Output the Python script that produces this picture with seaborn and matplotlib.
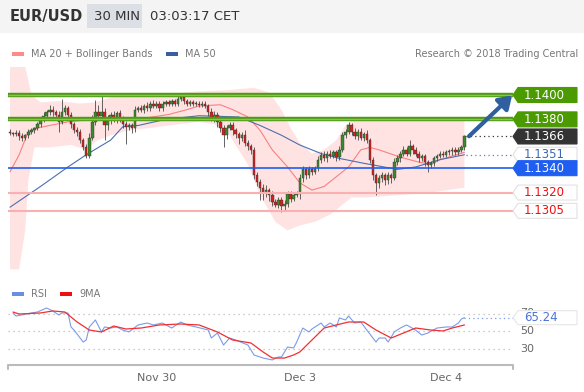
import numpy as np
import matplotlib
matplotlib.use("Agg")
import matplotlib.pyplot as plt
from matplotlib.patches import Polygon, Rectangle
import seaborn as sns

# 30-min EUR/USD closes, one per bar (bar index 0..149)
closes = [
    1.1369, 1.1368, 1.1369, 1.1366, 1.1365, 1.1367, 1.1370, 1.1371, 1.1373, 1.1376,
    1.1380, 1.1383, 1.1386, 1.1388, 1.1386, 1.1384, 1.1378, 1.1386, 1.1389, 1.1384,
    1.1376, 1.1371, 1.1370, 1.1363, 1.1357, 1.1350, 1.1365, 1.1378, 1.1386, 1.1383,
    1.1386, 1.1375, 1.1380, 1.1384, 1.1381, 1.1385, 1.1381, 1.1376, 1.1374, 1.1375,
    1.1373, 1.1388, 1.1389, 1.1388, 1.1391, 1.1389, 1.1393, 1.1391, 1.1393, 1.1389,
    1.1393, 1.1394, 1.1393, 1.1395, 1.1393, 1.1397, 1.1398, 1.1395, 1.1393, 1.1394,
    1.1393, 1.1393, 1.1392, 1.1393, 1.1391, 1.1386, 1.1381, 1.1384, 1.1378, 1.1373,
    1.1367, 1.1373, 1.1375, 1.1371, 1.1368, 1.1365, 1.1367, 1.1361, 1.1358, 1.1355,
    1.1334, 1.1329, 1.1324, 1.1320, 1.1322, 1.1318, 1.1312, 1.1310, 1.1314, 1.1309,
    1.1311, 1.1319, 1.1315, 1.1318, 1.1319, 1.1332, 1.1339, 1.1334, 1.1339, 1.1337,
    1.1340, 1.1347, 1.1351, 1.1348, 1.1352, 1.1350, 1.1353, 1.1349, 1.1355, 1.1367,
    1.1370, 1.1375, 1.1370, 1.1366, 1.1370, 1.1365, 1.1368, 1.1363, 1.1347, 1.1334,
    1.1328, 1.1332, 1.1334, 1.1330, 1.1334, 1.1332, 1.1345, 1.1348, 1.1352, 1.1355,
    1.1352, 1.1358, 1.1355, 1.1352, 1.1348, 1.1350, 1.1345, 1.1343, 1.1344, 1.1348,
    1.1350, 1.1352, 1.1351, 1.1353, 1.1354, 1.1355, 1.1353, 1.1355, 1.1357, 1.1366,
]
first_open = 1.1370

# wick lengths beyond the body, in pips
wick_up = [
    2, 1, 2, 2, 3, 1, 2, 2, 1, 2,
    2, 3, 2, 4, 3, 2, 3, 11, 3, 2,
    2, 2, 3, 2, 2, 3, 4, 6, 10, 6,
    16, 3, 4, 2, 3, 2, 3, 2, 3, 2,
    2, 3, 2, 3, 2, 3, 2, 3, 2, 2,
    2, 2, 2, 2, 2, 2, 1, 2, 2, 2,
    2, 2, 2, 2, 2, 2, 3, 3, 2, 2,
    2, 2, 3, 3, 2, 2, 3, 4, 2, 2,
    2, 3, 2, 3, 4, 2, 3, 3, 2, 2,
    3, 2, 2, 2, 2, 3, 3, 2, 3, 2,
    2, 3, 2, 3, 2, 3, 2, 2, 3, 3,
    2, 3, 2, 3, 2, 3, 2, 3, 2, 2,
    2, 2, 3, 2, 3, 2, 3, 3, 2, 3,
    2, 5, 2, 2, 2, 2, 2, 2, 2, 2,
    2, 2, 2, 2, 2, 2, 2, 2, 2, 1,
]
wick_dn = [
    2, 2, 2, 3, 3, 2, 2, 2, 2, 2,
    2, 2, 2, 2, 3, 2, 8, 2, 2, 2,
    3, 2, 4, 2, 2, 2, 2, 2, 3, 2,
    3, 12, 4, 4, 3, 4, 3, 3, 14, 3,
    4, 3, 2, 2, 3, 2, 2, 2, 2, 2,
    2, 2, 2, 2, 2, 2, 2, 2, 2, 2,
    2, 2, 2, 2, 2, 3, 2, 3, 4, 3,
    10, 3, 2, 4, 3, 5, 3, 3, 3, 3,
    3, 4, 10, 6, 4, 5, 3, 2, 3, 5,
    3, 3, 3, 2, 2, 4, 3, 3, 2, 3,
    2, 2, 3, 2, 3, 2, 2, 3, 2, 2,
    2, 2, 3, 2, 3, 2, 3, 2, 3, 4,
    10, 4, 3, 4, 3, 4, 2, 2, 3, 2,
    2, 2, 3, 2, 3, 2, 3, 6, 3, 2,
    2, 2, 2, 2, 2, 3, 2, 2, 2, 2,
]

ma20_idx = [0, 3, 6, 9, 13, 19, 27, 40, 44, 52, 58, 62, 69, 73, 78, 82, 86, 91, 95, 99,
            103, 107, 111, 115, 118, 121, 128, 134, 138, 141, 149]
ma20_val = [1.1337, 1.1351, 1.1370, 1.1373, 1.1375, 1.1378, 1.1380, 1.1379, 1.1381, 1.1384,
            1.1388, 1.1391, 1.1392, 1.1388, 1.1382, 1.1371, 1.1355, 1.1341, 1.1328, 1.1322,
            1.1325, 1.1333, 1.1341, 1.1355, 1.1357, 1.1355, 1.1349, 1.1345, 1.1343, 1.1347, 1.1353]

bb_up_idx = [0, 5, 6, 7, 10, 16, 23, 28, 33, 43, 52, 62, 72, 80, 85, 89, 92, 95, 99, 103,
             107, 110, 113, 117, 128, 138, 149]
bb_up_val = [1.1423, 1.1423, 1.1412, 1.1400, 1.1394, 1.1395, 1.1393, 1.1394, 1.1398, 1.1400,
             1.1401, 1.1403, 1.1404, 1.1406, 1.1402, 1.1388, 1.1373, 1.1361, 1.1352, 1.1355,
             1.1363, 1.1375, 1.1381, 1.1382, 1.1380, 1.1380, 1.1380]
bb_lo_idx = [0, 3, 5, 6, 8, 13, 20, 25, 28, 33, 39, 46, 52, 62, 67, 72, 78, 82, 87, 91,
             95, 100, 105, 108, 112, 117, 128, 138, 149]
bb_lo_val = [1.1257, 1.1257, 1.1289, 1.1330, 1.1357, 1.1357, 1.1359, 1.1355, 1.1362, 1.1367,
             1.1371, 1.1373, 1.1375, 1.1378, 1.1376, 1.1367, 1.1343, 1.1318, 1.1296, 1.1289,
             1.1293, 1.1296, 1.1302, 1.1308, 1.1316, 1.1316, 1.1318, 1.1320, 1.1324]

ma50_idx = [0, 10, 19, 25, 33, 37, 42, 51, 62, 75, 82, 89, 95, 102, 108, 116, 127, 133, 141, 149]
ma50_val = [1.1308, 1.1325, 1.1341, 1.1351, 1.1363, 1.1374, 1.1375, 1.1380, 1.1383, 1.1382,
            1.1375, 1.1367, 1.1359, 1.1352, 1.1348, 1.1344, 1.1339, 1.1341, 1.1347, 1.1351]

rsi_idx = [1, 2, 7, 9, 12, 14, 16, 17, 19, 20, 21, 24, 25, 26, 28, 30, 31, 33, 35, 37,
           39, 42, 45, 47, 50, 53, 56, 58, 61, 65, 66, 68, 70, 72, 74, 78, 80, 83, 86, 88,
           89, 91, 93, 94, 96, 98, 99, 102, 103, 105, 107, 108, 110, 111, 113, 115, 117, 120, 121, 123,
           124, 126, 128, 130, 133, 135, 137, 140, 143, 145, 147, 148, 149]
rsi_val = [70.6, 67.1, 70.6, 71.7, 76.3, 72.9, 68.3, 70.6, 70.6, 54.6, 51.1, 37.4, 39.7, 54.6, 62.6, 48.9, 54.6, 53.4, 54.6, 51.1,
           48.9, 56.9, 59.1, 56.9, 59.1, 53.4, 60.3, 56.9, 54.6, 51.1, 42.0, 47.7, 34.0, 42.0, 39.7, 34.0, 22.6, 19.1, 16.9, 20.3,
           20.3, 31.7, 30.6, 37.4, 53.4, 48.9, 52.3, 59.1, 54.6, 59.1, 54.6, 64.9, 62.6, 67.1, 59.1, 60.3, 51.1, 37.4, 42.0, 42.0,
           37.4, 48.9, 53.4, 56.9, 51.1, 45.4, 47.7, 53.4, 54.6, 54.6, 59.1, 63.7, 65.24]

ma9_idx = [1, 3, 10, 14, 18, 22, 26, 30, 34, 38, 43, 49, 56, 62, 68, 73, 79, 83, 86, 90,
           93, 95, 99, 103, 107, 111, 116, 120, 125, 129, 133, 138, 142, 145, 149]
ma9_val = [71.7, 69.4, 70.6, 72.9, 71.7, 60.3, 51.1, 48.9, 55.7, 52.3, 53.4, 56.9, 58.0, 56.9, 48.9, 39.7, 36.3, 26.0, 19.1, 19.1,
           22.6, 26.0, 39.7, 53.4, 56.9, 60.3, 60.3, 51.1, 42.0, 47.7, 53.4, 51.1, 50.0, 53.4, 56.9]

levels_res = [1.1400, 1.1380]
levels_piv = [1.1340]
levels_sup = [1.1320, 1.1305]
last_price = 1.1366
ma50_last = 1.1351
target = 1.1400
rsi_last = 65.24
rsi_grid = [30, 50, 70]
date_ticks = [48, 95, 143]
date_labels = ["Nov 30", "Dec 3", "Dec 4"]

W, H = 584, 392
sns.set_style("white")
plt.rcParams["font.family"] = ["DejaVu Sans"]

fig = plt.figure(figsize=(W / 100, H / 100), dpi=100)
fx = lambda px: px / W
fy = lambda py: 1 - py / H

# header
fig.add_artist(Rectangle((0, fy(33)), 1, 33 / H, transform=fig.transFigure, color="#f4f4f4", lw=0))
fig.add_artist(Rectangle((fx(87), fy(28)), 55 / W, 24 / H, transform=fig.transFigure, color="#dcdfe6", lw=0))
fig.text(fx(10), fy(16), "EUR/USD", fontsize=10.5, fontweight="bold", color="#333", va="center")
fig.text(fx(94), fy(16), "30 MIN", fontsize=9.5, color="#333", va="center")
fig.text(fx(150), fy(16), "03:03:17 CET", fontsize=9.5, color="#333", va="center")

# legend row
fig.add_artist(Rectangle((fx(12), fy(56)), 12 / W, 4 / H, transform=fig.transFigure, color="#ff8a8a", lw=0))
fig.text(fx(31), fy(54), "MA 20 + Bollinger Bands", fontsize=7, color="#777", va="center")
fig.add_artist(Rectangle((fx(166), fy(56)), 12 / W, 4 / H, transform=fig.transFigure, color="#3a5fa0", lw=0))
fig.text(fx(185), fy(54), "MA 50", fontsize=7, color="#777", va="center")
fig.text(fx(578), fy(54), "Research \u00a9 2018 Trading Central", fontsize=7, color="#777", va="center", ha="right")

xlim = (-10 / 3.05, (W - 10) / 3.05)
x_tip, x_left, x_right, x_txt = (513 - 10) / 3.05, (518 - 10) / 3.05, (577 - 10) / 3.05, (524 - 10) / 3.05
x_start = (8 - 10) / 3.05

# ---- price panel
ax = fig.add_axes([0, fy(285), 1, 225 / H])
ax.set_xlim(*xlim)
ax.set_ylim(1.14 - 190 * 0.000082, 1.14 + 35 * 0.000082)
ax.axis("off")

ax.fill(np.r_[bb_up_idx, bb_lo_idx[::-1]], np.r_[bb_up_val, bb_lo_val[::-1]],
        color="#ffe3e3", lw=0, zorder=1)
sns.lineplot(x=ma20_idx, y=ma20_val, ax=ax, color="#f88080", linewidth=0.8, zorder=2)
sns.lineplot(x=ma50_idx, y=ma50_val, ax=ax, color="#4a6fb0", linewidth=0.8, zorder=2)

opens = [first_open] + closes[:-1]
for i, (o, c) in enumerate(zip(opens, closes)):
    top, bot = max(o, c), min(o, c)
    ax.vlines(i, bot - wick_dn[i] / 10000, top + wick_up[i] / 10000, color="#4a4a4a", lw=0.6, zorder=3)
    col = "#3c8a2c" if c >= o else "#d62020"
    ax.bar(i, max(top - bot, 0.00004), bottom=bot, width=0.8, color=col,
           edgecolor="#333", linewidth=0.3, zorder=4)

for lv in levels_res:
    ax.hlines(lv, x_start, x_tip, color="#4f9a14", lw=3.2, zorder=5)
    ax.hlines(lv, x_start, x_tip, color="#86c94a", lw=1.0, zorder=5)
for lv in levels_piv:
    ax.hlines(lv, x_start, x_tip, color="#1f5ef0", lw=1.2, zorder=5)
for lv in levels_sup:
    ax.hlines(lv, x_start, x_tip, color="#f8b0b0", lw=1.5, zorder=5)

n = len(closes)
ax.hlines(last_price, n - 0.5, x_tip, color="#333", lw=0.9, ls=(0, (1, 2.5)), zorder=5)
ax.hlines(ma50_last, n - 0.5, x_tip, color="#5b7fc0", lw=0.9, ls=(0, (1, 2.5)), zorder=5)

ax.annotate("", xy=(x_tip - 0.3, target - 0.00003), xytext=(n + 0.5, last_price + 0.00002),
            arrowprops=dict(arrowstyle="-|>,head_length=0.75,head_width=0.5", color="#2f5f9f",
                            lw=3, shrinkA=0, shrinkB=0), zorder=7)


def tag(axis, y, h, text, fc, tc, ec=None):
    pts = [[x_tip, y], [x_left, y + h], [x_right, y + h], [x_right, y - h], [x_left, y - h]]
    axis.add_patch(Polygon(pts, closed=True, fc=fc, ec=ec or fc, lw=0.8, zorder=8, clip_on=False))
    axis.text(x_txt, y, text, color=tc, fontsize=8.5, va="center", ha="left", zorder=9)


hh = 7.5 * 0.000082
tag(ax, 1.1400, hh, "1.1400", "#4a9a00", "white")
tag(ax, 1.1380, hh, "1.1380", "#4a9a00", "white")
tag(ax, 1.1366, hh, "1.1366", "#333333", "white")
tag(ax, 1.1351, hh, "1.1351", "white", "#3a68b8", "#e2e2e2")
tag(ax, 1.1340, hh, "1.1340", "#1f5ef0", "white")
tag(ax, 1.1320, hh, "1.1320", "white", "#ee1111", "#e2e2e2")
tag(ax, 1.1305, hh, "1.1305", "white", "#ee1111", "#e2e2e2")

# ---- RSI panel
fig.add_artist(Rectangle((fx(12), fy(296)), 12 / W, 4 / H, transform=fig.transFigure, color="#6a8ee0", lw=0))
fig.text(fx(31), fy(294), "RSI", fontsize=7, color="#777", va="center")
fig.add_artist(Rectangle((fx(60), fy(296)), 12 / W, 4 / H, transform=fig.transFigure, color="#ee1111", lw=0))
fig.text(fx(79), fy(294), "9MA", fontsize=7, color="#777", va="center")

ax2 = fig.add_axes([0, fy(372), 1, 74 / H])
ax2.set_xlim(*xlim)
ax2.set_ylim(50 + (331 - 372) / 0.875, 50 + (331 - 298) / 0.875)
ax2.axis("off")

for v in rsi_grid:
    ax2.hlines(v, x_start, x_tip, color="#bbb", lw=0.9, ls=(0, (1, 3)), zorder=1)
    ax2.text(x_txt - 1.3, v, str(v), color="#666", fontsize=8, va="center", ha="left", zorder=2)

sns.lineplot(x=rsi_idx, y=rsi_val, ax=ax2, color="#7b9be8", linewidth=0.8, zorder=3)
sns.lineplot(x=ma9_idx, y=ma9_val, ax=ax2, color="#f03030", linewidth=0.9, zorder=3)
ax2.hlines(rsi_last, n - 1, x_tip, color="#7b9be8", lw=0.9, ls=(0, (1, 2.5)), zorder=3)
tag(ax2, rsi_last, 8.0, f"{rsi_last:.2f}", "white", "#4a72d8", "#e6e6e6")

base = 50 + (331 - 365) / 0.875
tick = 4 / 0.875
ax2.plot([x_start, x_start, x_tip, x_tip], [base - tick, base, base, base - tick],
         color="#bbb", lw=1.5, clip_on=False, zorder=2)
for t, lab in zip(date_ticks, date_labels):
    ax2.text(t, 50 + (331 - 378) / 0.875, lab, color="#666", fontsize=8, ha="center", va="center")

fig.savefig("out.png", dpi=100)
